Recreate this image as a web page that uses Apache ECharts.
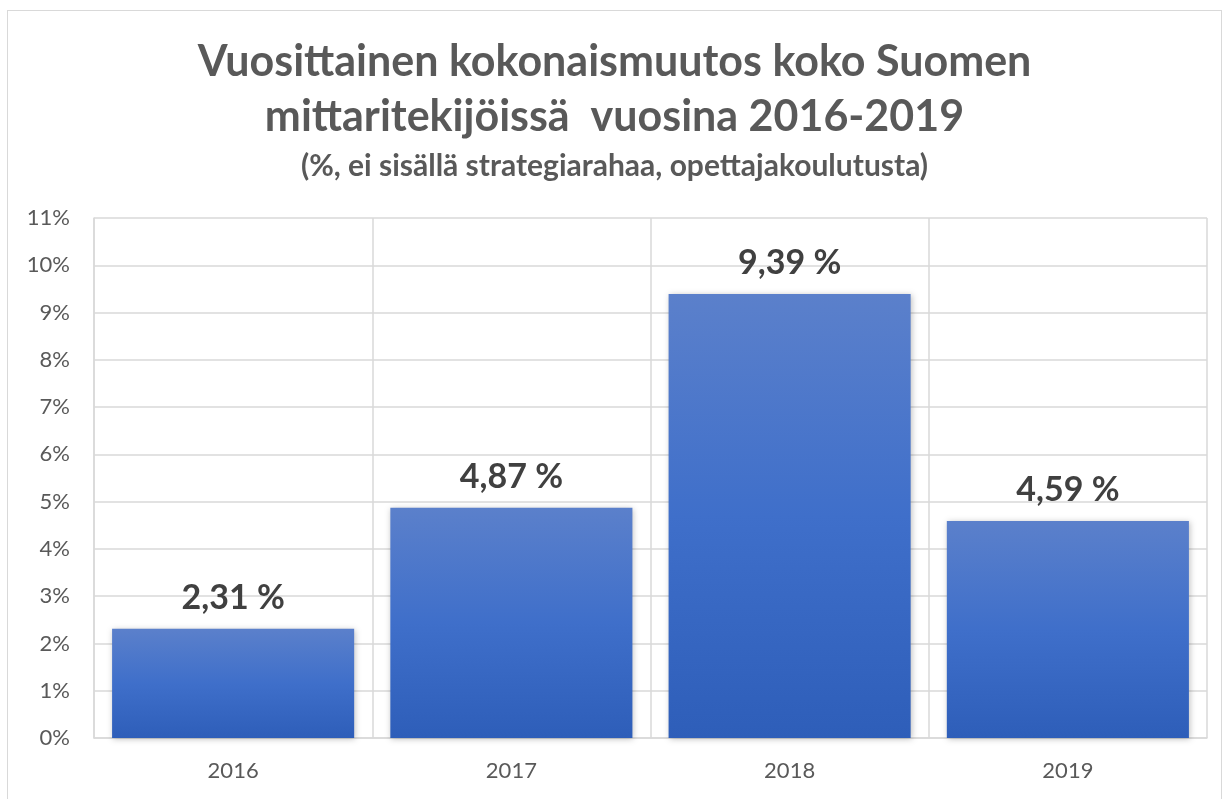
<!DOCTYPE html>
<html>
<head>
<meta charset="utf-8">
<script src="https://cdn.jsdelivr.net/npm/echarts@6/dist/echarts.min.js"></script>
<style>
  html, body { margin: 0; padding: 0; background: #fff; }
  #main { width: 1229px; height: 799px; }
  .frame { position: absolute; left: 7px; top: 10px; width: 1215px; height: 800px; border: 1px solid #d9d9d9; box-sizing: border-box; pointer-events: none; }
</style>
</head>
<body>
<div id="main"></div>
<div class="frame"></div>
<script>
// vuodet ja muutosprosentit
var years = ["2016", "2017", "2018", "2019"];
var changes = [2.31, 4.87, 9.39, 4.59];

var chart = echarts.init(document.getElementById("main"));
var font = "Lato, 'Open Sans', sans-serif";

chart.setOption({
  animation: false,
  title: {
    text: "Vuosittainen kokonaismuutos koko Suomen\nmittaritekijöissä  vuosina 2016-2019",
    subtext: "(%, ei sisällä strategiarahaa, opettajakoulutusta)",
    left: "center",
    top: 30,
    itemGap: 6,
    textStyle: {
      color: "#595959",
      fontFamily: font,
      fontWeight: "bold",
      fontSize: 43,
      lineHeight: 55
    },
    subtextStyle: {
      color: "#595959",
      fontFamily: font,
      fontWeight: "bold",
      fontSize: 30
    }
  },
  grid: {
    left: 94,
    right: 22,
    top: 218,
    bottom: 61
  },
  xAxis: {
    type: "category",
    data: years,
    axisLine: { lineStyle: { color: "#d9d9d9", width: 1.5 } },
    axisTick: { show: false },
    splitLine: { show: true, lineStyle: { color: "#d9d9d9", width: 1.5 } },
    axisLabel: {
      color: "#595959",
      fontFamily: font,
      fontSize: 22,
      margin: 22
    }
  },
  yAxis: {
    type: "value",
    min: 0,
    max: 11,
    interval: 1,
    axisLine: { show: true, lineStyle: { color: "#d9d9d9", width: 1.5 } },
    axisTick: { show: false },
    splitLine: { lineStyle: { color: "#d9d9d9", width: 1.5 } },
    axisLabel: {
      color: "#595959",
      fontFamily: font,
      fontSize: 22,
      margin: 24,
      formatter: "{value}%"
    }
  },
  series: [{
    type: "bar",
    data: changes,
    barCategoryGap: "13%",
    itemStyle: {
      color: new echarts.graphic.LinearGradient(0, 0, 0, 1, [
        { offset: 0, color: "#5b80cb" },
        { offset: 0.5, color: "#3f6fca" },
        { offset: 1, color: "#2e5eb9" }
      ]),
      shadowColor: "rgba(0,0,0,0.25)",
      shadowBlur: 6,
      shadowOffsetX: 1,
      shadowOffsetY: 1
    },
    label: {
      show: true,
      position: "top",
      distance: 14,
      color: "#404040",
      fontFamily: font,
      fontWeight: "bold",
      fontSize: 34,
      formatter: function (p) {
        return p.value.toFixed(2).replace(".", ",") + " %";
      }
    }
  }]
});
</script>
</body>
</html>
